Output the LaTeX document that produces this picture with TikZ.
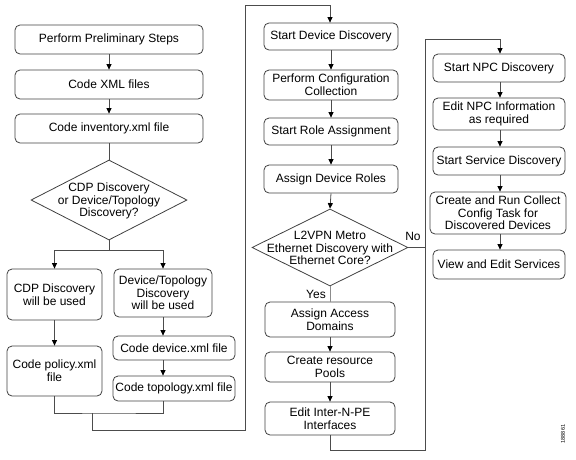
\documentclass[tikz,border=0pt]{standalone}
\usepackage{fontspec}
\setmainfont{Liberation Sans}
\usetikzlibrary{shapes.geometric,arrows.meta}
\begin{document}
\begin{tikzpicture}[x=1pt,y=-1pt,
  box/.style={draw=black!75, line width=0.8pt, rounded corners=5pt, align=center,
    inner sep=0pt, font=\fontsize{12}{12.6}\selectfont},
  dia/.style={draw=black!75, line width=0.8pt, diamond, inner sep=0pt},
  dtext/.style={align=center, inner sep=0pt, font=\fontsize{12}{12.6}\selectfont},
  conn/.style={draw=black!70, line width=0.8pt},
  arr/.style={conn, -{Triangle[length=5.5pt,width=5pt,black]}},
  lbl/.style={inner sep=0pt, font=\fontsize{12}{12}\selectfont}
]
\useasboundingbox (0,0) rectangle (576,459);
% column 1
\node[box, minimum width=188pt, minimum height=29pt] (b1) at (109,39.5) {Perform Preliminary Steps};
\node[box, minimum width=188pt, minimum height=29pt] (b2) at (109,84.5) {Code XML files};
\node[box, minimum width=188pt, minimum height=29pt] (b3) at (109,128.5) {Code inventory.xml file};
\node[dia, minimum width=156pt, minimum height=80pt] (d1) at (109,200) {};
\node[dtext] (d1t) at (109,201) {CDP Discovery\\or Device/Topology\\Discovery?};
\node[box, minimum width=95pt, minimum height=51pt] (b4) at (54.5,294.5) {CDP Discovery\\will be used};
\node[box, minimum width=98pt, minimum height=48pt] (b5) at (163,293) {Device/Topology\\Discovery\\will be used};
\node[box, minimum width=95pt, minimum height=50pt] (b6) at (54.5,371) {Code policy.xml\\file};
\node[box, minimum width=122pt, minimum height=24pt] (b7) at (174,348) {Code device.xml file};
\node[box, minimum width=122pt, minimum height=25pt] (b8) at (174,388.5) {Code topology.xml file};
% column 2
\node[box, minimum width=134pt, minimum height=27pt] (c1) at (331,36.5) {Start Device Discovery};
\node[box, minimum width=134pt, minimum height=30pt] (c2) at (331,85) {Perform Configuration\\Collection};
\node[box, minimum width=134pt, minimum height=27pt] (c3) at (331,131.5) {Start Role Assignment};
\node[box, minimum width=134pt, minimum height=28pt] (c4) at (331,179) {Assign Device Roles};
\node[dia, minimum width=156pt, minimum height=77pt] (d2) at (330,247.5) {};
\node[dtext] (d2t) at (330,248) {L2VPN Metro\\Ethernet Discovery with\\Ethernet Core?};
\node[box, minimum width=130pt, minimum height=35pt] (c5) at (330,319.5) {Assign Access\\Domains};
\node[box, minimum width=130pt, minimum height=30pt] (c6) at (330,367) {Create resource\\Pools};
\node[box, minimum width=130pt, minimum height=33pt] (c7) at (330,418.5) {Edit Inter-N-PE\\Interfaces};
% column 3
\node[box, minimum width=132pt, minimum height=28pt] (e1) at (499,68) {Start NPC Discovery};
\node[box, minimum width=132pt, minimum height=32pt] (e2) at (499,114) {Edit NPC Information\\as required};
\node[box, minimum width=132pt, minimum height=28pt] (e3) at (499,161) {Start Service Discovery};
\node[box, minimum width=136pt, minimum height=42pt] (e4) at (498,213) {Create and Run Collect\\Config Task for\\Discovered Devices};
\node[box, minimum width=132pt, minimum height=29pt] (e5) at (499,264.5) {View and Edit Services};
% labels
\node[lbl] (no) at (413,236) {No};
\node[lbl] (yes) at (316,294) {Yes};
\node[inner sep=0pt, rotate=90, font=\fontsize{5.5}{6}\selectfont] (fig) at (563,434) {188861};
% coordinates
\coordinate (s1) at (109,250);
\coordinate (m1) at (109,413);
\coordinate (p1) at (92,413);
\coordinate (p2) at (92,430);
\coordinate (p3) at (245,430);
\coordinate (p4) at (245,5);
\coordinate (p5) at (330,5);
\coordinate (q1) at (330,450);
\coordinate (q2) at (425,450);
\coordinate (q3) at (425,39);
\coordinate (q4) at (500,39);
\coordinate (q5) at (425,247.5);
% connectors column 1
\draw[arr] (b1) -- (b2);
\draw[arr] (b2) -- (b3);
\draw[conn] (b3) -- (d1.north);
\draw[conn] (d1.south) -- (s1);
\draw[arr] (s1) -| (b4.north);
\draw[arr] (s1) -| (b5.north);
\draw[arr] (b4) -- (b6);
\draw[arr] (b5.south) -- (b5.south |- b7.north);
\draw[arr] (b5.south |- b7.south) -- (b5.south |- b8.north);
\draw[conn] (b6.south) |- (m1) -| (b5.south |- b8.south);
\draw[conn] (p1) -- (p2) -- (p3) -- (p4) -- (p5);
\draw[arr] (p5) -- (p5 |- c1.north);
% connectors column 2
\draw[arr] (c1) -- (c2);
\draw[arr] (c2) -- (c3);
\draw[arr] (c3) -- (c4);
\draw[arr] (c4.south) -- (d2.north);
\draw[conn, draw=black!45] (d2.south) -- (c5.north);
\draw[arr] (c5) -- (c6);
\draw[arr] (c6) -- (c7);
\draw[conn] (c7.south) -- (q1) -- (q2) -- (q3) -- (q4);
\draw[arr] (q4) -- (q4 |- e1.north);
\draw[conn] (d2.east) -- (q5);
% connectors column 3
\draw[arr] (e1.south -| q4) -- (q4 |- e2.north);
\draw[arr] (e2.south -| q4) -- (q4 |- e3.north);
\draw[arr] (e3.south -| q4) -- (q4 |- e4.north);
\draw[arr] (e4.south -| q4) -- (q4 |- e5.north);
\end{tikzpicture}
\end{document}
